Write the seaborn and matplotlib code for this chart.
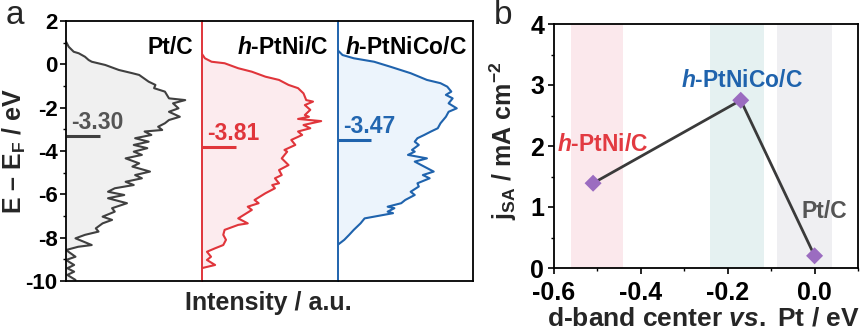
import matplotlib
matplotlib.use("Agg")
import matplotlib.pyplot as plt
from matplotlib.ticker import MultipleLocator
import seaborn as sns
import pandas as pd

# ---------------- data ----------------
# Projected d-band DOS (energy in eV vs. relative intensity, a.u.)
pt_energy = [1.05, 0.81, 0.58, 0.51, 0.35, 0.20, 0.12, -0.03, -0.26, -0.41, -0.49, -0.80,
             -0.95, -1.10, -1.26, -1.57, -1.65, -1.80, -2.03, -2.19, -2.42, -2.57, -2.72,
             -2.88, -3.03, -3.10, -3.26, -3.41, -3.57, -3.72, -3.87, -4.03, -4.18, -4.34,
             -4.57, -4.72, -4.95, -5.11, -5.26, -5.42, -5.57, -5.72, -5.88, -6.03, -6.18,
             -6.41, -6.64, -6.80, -7.03, -7.18, -7.34, -7.57, -7.72, -7.87, -8.03, -8.34,
             -8.42, -8.57, -8.88, -9.03, -9.26, -9.41, -9.57, -9.72, -9.95]
pt_intensity = [0.00, 0.02, 0.057, 0.094, 0.14, 0.167, 0.19, 0.29, 0.39, 0.49, 0.54, 0.61,
                0.66, 0.65, 0.73, 0.76, 0.88, 0.79, 0.83, 0.76, 0.84, 0.76, 0.73,
                0.68, 0.71, 0.58, 0.63, 0.51, 0.61, 0.50, 0.60, 0.50, 0.56, 0.44,
                0.54, 0.49, 0.62, 0.51, 0.56, 0.44, 0.50, 0.36, 0.31, 0.43, 0.31,
                0.45, 0.34, 0.36, 0.27, 0.34, 0.27, 0.22, 0.24, 0.14, 0.07, 0.19,
                0.09, 0.00, 0.07, 0.00, 0.06, 0.01, 0.06, 0.01, 0.07]

ptni_energy = [0.51, 0.28, 0.12, 0.05, -0.18, -0.34, -0.57, -0.72, -0.95, -1.10, -1.34,
               -1.65, -1.72, -1.88, -2.10, -2.34, -2.42, -2.52, -2.62, -2.80, -2.95, -3.10,
               -3.26, -3.49, -3.72, -3.95, -4.03, -4.34, -4.65, -4.88, -5.11, -5.26, -5.49,
               -5.57, -5.72, -5.95, -6.26, -6.41, -6.57, -6.72, -7.11, -7.34, -7.41, -7.64,
               -7.87, -8.10, -8.34, -8.49, -8.65, -8.88, -9.03, -9.26, -9.41]
ptni_intensity = [0.00, 0.025, 0.074, 0.17, 0.27, 0.37, 0.47, 0.57, 0.64, 0.71, 0.75,
                  0.77, 0.82, 0.76, 0.80, 0.76, 0.79, 0.71, 0.88, 0.75, 0.80, 0.71,
                  0.74, 0.66, 0.69, 0.61, 0.63, 0.59, 0.64, 0.57, 0.59, 0.54, 0.57,
                  0.52, 0.54, 0.47, 0.39, 0.42, 0.34, 0.37, 0.27, 0.34, 0.27, 0.17,
                  0.16, 0.18, 0.16, 0.10, 0.04, 0.07, 0.04, 0.10, 0.00]

ptnico_energy = [0.66, 0.43, 0.28, 0.12, -0.11, -0.41, -0.72, -0.87, -1.03, -1.26, -1.41,
                 -1.57, -1.80, -2.03, -2.19, -2.42, -2.72, -2.95, -3.10, -3.26, -3.41,
                 -3.57, -3.72, -3.95, -4.03, -4.18, -4.34, -4.49, -4.72, -4.95, -5.11,
                 -5.26, -5.49, -5.64, -5.88, -6.03, -6.26, -6.41, -6.57, -6.64, -6.80,
                 -6.87, -6.95, -7.11, -7.34, -7.64, -7.87, -8.10, -8.34]
ptnico_intensity = [0.00, 0.037, 0.12, 0.27, 0.39, 0.54, 0.66, 0.76, 0.81, 0.84, 0.80,
                    0.85, 0.82, 0.88, 0.82, 0.80, 0.76, 0.74, 0.69, 0.64, 0.59,
                    0.57, 0.60, 0.55, 0.57, 0.52, 0.66, 0.57, 0.64, 0.71, 0.63,
                    0.68, 0.59, 0.60, 0.54, 0.57, 0.50, 0.47, 0.37, 0.42, 0.37,
                    0.41, 0.34, 0.20, 0.17, 0.12, 0.086, 0.05, 0.00]

# d-band centres (eV vs. E_F)
catalysts = ["Pt/C", "$\\it{h}$-PtNi/C", "$\\it{h}$-PtNiCo/C"]
dband_centers = [-3.30, -3.81, -3.47]

# Specific activity vs. d-band centre shift relative to Pt
shift_labels = ["$\\it{h}$-PtNi/C", "$\\it{h}$-PtNiCo/C", "Pt/C"]
dband_shift = [-0.51, -0.17, 0.00]
specific_activity = [1.39, 2.75, 0.20]

# ---------------- style ----------------
sns.set_theme(style="ticks")
plt.rcParams.update({
    "font.family": ["Liberation Sans", "DejaVu Sans"],
    "font.weight": "bold",
    "axes.labelweight": "bold",
    "axes.unicode_minus": False,
    "mathtext.fontset": "custom",
    "mathtext.rm": "Liberation Sans:bold",
    "mathtext.bf": "Liberation Sans:bold",
    "mathtext.it": "Liberation Sans:bold:italic",
    "axes.linewidth": 1.3,
    "xtick.color": "black",
    "ytick.color": "black",
})

line_colors = ["#404040", "#e0353b", "#1f63ad"]
fill_colors = ["#f0f0f0", "#fcebee", "#ecf4fc"]
text_colors = ["#555555", "#e0353b", "#2266b0"]

W, H = 866, 335
fig = plt.figure(figsize=(W / 100, H / 100), dpi=100)


def frac(x0, y0, x1, y1):
    return [x0 / W, 1 - y1 / H, (x1 - x0) / W, (y1 - y0) / H]


# ---------------- panel a ----------------
dos = [(pt_energy, pt_intensity), (ptni_energy, ptni_intensity), (ptnico_energy, ptnico_intensity)]
edges = [66, 201.5, 337.5, 473]
axes_a = []
for i, ((en, inten), cat, dc) in enumerate(zip(dos, catalysts, dband_centers)):
    ax = fig.add_axes(frac(edges[i], 21, edges[i + 1], 281))
    axes_a.append(ax)
    df = pd.DataFrame({"E": en, "I": inten})
    ax.fill_betweenx(df["E"], 0, df["I"], color=fill_colors[i], lw=0)
    sns.lineplot(data=df, x="I", y="E", sort=False, estimator=None, ax=ax,
                 color=line_colors[i], lw=1.5)
    ax.plot([0, 0.25], [dc, dc], color=line_colors[i], lw=2.2, solid_capstyle="butt")
    ax.text(0.04, dc + 0.3, f"{dc:.2f}", color=text_colors[i], fontsize=16.5,
            ha="left", va="baseline")
    if i < 2:
        ax.text(0.935, 0.8, cat, color="black", fontsize=16.5, ha="right", va="center")
    else:
        ax.text(0.505, 0.8, cat, color="black", fontsize=16.5, ha="center", va="center")
    ax.set_xlim(0, 1)
    ax.set_ylim(-10, 2)
    ax.set_xticks([])
    ax.set_xlabel("")
    ax.set_ylabel("")
    for s in ax.spines.values():
        s.set_color("black")
        s.set_linewidth(1.3)
    if i > 0:
        ax.spines["left"].set_color(line_colors[i])
        ax.spines["left"].set_linewidth(1.4)
        ax.tick_params(axis="y", left=False, labelleft=False)
    if i < 2:
        ax.spines["right"].set_visible(False)

ax0 = axes_a[0]
ax0.yaxis.set_major_locator(MultipleLocator(2))
ax0.yaxis.set_minor_locator(MultipleLocator(1))
ax0.tick_params(axis="y", which="major", direction="out", length=4, width=1.2,
                labelsize=16, pad=2)
ax0.tick_params(axis="y", which="minor", direction="out", length=2.5, width=1.0)
for t in ax0.get_yticklabels():
    t.set_fontweight("bold")
ax0.set_ylabel("E – E$_\\mathrm{F}$ / eV", fontsize=18)
ax0.yaxis.set_label_coords((28 - 66) / 135.5, 0.5)
fig.text(268 / W, 1 - 303 / H, "Intensity / a.u.", fontsize=18, fontweight="bold",
         ha="center", va="center")
fig.text(15 / W, 1 - 15 / H, "a", fontsize=24, fontweight="normal", ha="center", va="center")

# ---------------- panel b ----------------
axb = fig.add_axes(frac(554, 24, 858, 268))
bands = [(-0.56, -0.44, "#fbe8ec"), (-0.24, -0.117, "#e5f1f1"), (-0.086, 0.04, "#efeff2")]
for lo, hi, c in bands:
    axb.axvspan(lo, hi, color=c, lw=0, zorder=0)
dfb = pd.DataFrame({"shift": dband_shift, "jsa": specific_activity, "name": shift_labels})
sns.lineplot(data=dfb, x="shift", y="jsa", sort=False, estimator=None, ax=axb,
             color="#3a3a3a", lw=2.0, zorder=2)
sns.scatterplot(data=dfb, x="shift", y="jsa", marker="D", s=75, color="#9b6cc0",
                edgecolor="none", ax=axb, zorder=3)
label_pos = [(-0.487, 2.02, "#e23a41"), (-0.166, 3.07, "#1f63ad"), (0.023, 0.93, "#555555")]
for name, (x, y, c) in zip(shift_labels, label_pos):
    axb.text(x, y, name, color=c, fontsize=16.5, ha="center", va="center")
axb.set_xlim(-0.6, 0.1)
axb.set_ylim(0, 4)
axb.xaxis.set_major_locator(MultipleLocator(0.2))
axb.xaxis.set_minor_locator(MultipleLocator(0.1))
axb.yaxis.set_major_locator(MultipleLocator(1))
axb.yaxis.set_minor_locator(MultipleLocator(0.5))
axb.set_xticks([-0.6, -0.4, -0.2, 0.0])
axb.set_xticklabels(["-0.6", "-0.4", "-0.2", "0.0"])
axb.tick_params(which="major", direction="out", length=4, width=1.2, labelsize=18, pad=3)
axb.tick_params(axis="x", which="major", pad=5)
axb.tick_params(which="minor", direction="out", length=2.5, width=1.0)
for t in axb.get_xticklabels() + axb.get_yticklabels():
    t.set_fontweight("bold")
for s in axb.spines.values():
    s.set_color("black")
    s.set_linewidth(1.3)
axb.set_xlabel("d-band center $\\it{vs.}$ Pt / eV", fontsize=19)
axb.xaxis.set_label_coords(0.49, (268 - 306) / 244)
axb.set_ylabel("j$_\\mathrm{SA}$ / mA cm$^{\\mathrm{-2}}$", fontsize=18)
axb.yaxis.set_label_coords((519 - 554) / 304, 0.52)
fig.text(503 / W, 1 - 16 / H, "b", fontsize=24, fontweight="normal", ha="center", va="center")

fig.savefig("out.png", dpi=100)
